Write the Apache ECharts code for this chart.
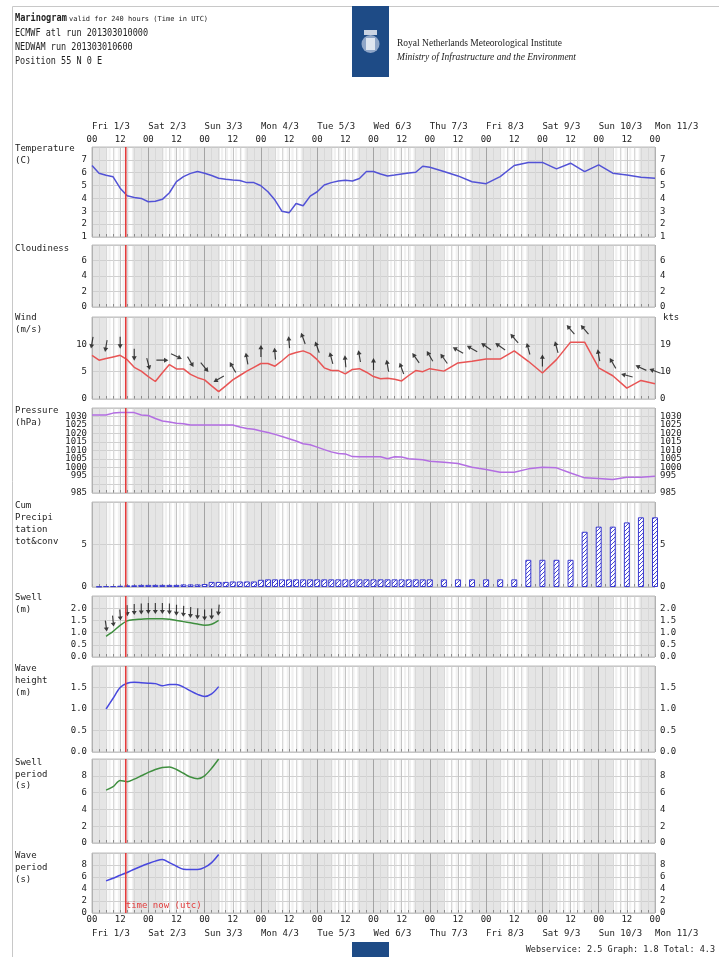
<!DOCTYPE html>
<html><head><meta charset="utf-8">
<script src="https://cdn.jsdelivr.net/npm/echarts@6/dist/echarts.min.js"></script>
<style>html,body{margin:0;padding:0;background:#fff}#c{width:719px;height:957px}</style>
</head><body><div id="c"></div><script>
// ---------------- data ----------------
const dayLabels = ['Fri 1/3','Sat 2/3','Sun 3/3','Mon 4/3','Tue 5/3','Wed 6/3','Thu 7/3','Fri 8/3','Sat 9/3','Sun 10/3','Mon 11/3'];
const nowHour = 14.4;
const nightBands = [[0,6.5],[17.5,30.5],[41.5,54.5],[65.5,78.5],[89.5,102.5],[113.5,126.5],[137.5,150.5],[161.5,174.5],[185.5,198.5],[209.5,222.5],[233.5,240]];

const tempHours = [0,3,6,9,12,15,18,21,24,27,30,33,36,39,42,45,48,51,54,57,60,63,66,69,72,75,78,81,84,87,90,93,96,99,102,105,108,111,114,117,120,123,126,129,132,135,138,141,144,150,156,162,168,174,180,186,192,198,204,210,216,222,228,234,240];
const tempValues = [6.56,5.96,5.8,5.68,4.8,4.2,4.08,4.0,3.74,3.78,3.93,4.44,5.3,5.7,5.95,6.09,5.96,5.78,5.57,5.5,5.44,5.4,5.23,5.23,4.99,4.52,3.87,3.0,2.88,3.61,3.43,4.18,4.52,5.04,5.23,5.35,5.41,5.36,5.55,6.09,6.09,5.9,5.75,5.82,5.9,5.97,6.04,6.5,6.43,6.09,5.75,5.3,5.15,5.7,6.56,6.8,6.8,6.3,6.74,6.09,6.61,5.96,5.83,5.65,5.57];

const windHours = [0,3,6,9,12,15,18,21,24,27,30,33,36,39,42,45,48,51,54,57,60,63,66,69,72,75,78,81,84,87,90,93,96,99,102,105,108,111,114,117,120,123,126,129,132,135,138,141,144,150,156,162,168,174,180,186,192,198,204,210,216,222,228,234,240];
const windSpeed = [8.0,7.1,7.4,7.7,8.0,7.2,5.8,5.1,4.1,3.2,4.8,6.3,5.5,5.5,4.5,3.9,3.5,2.4,1.35,2.4,3.5,4.3,5.1,5.8,6.5,6.5,6.0,7.0,8.1,8.5,8.8,8.3,7.2,5.7,5.2,5.2,4.6,5.4,5.55,4.9,4.1,3.7,3.8,3.6,3.3,4.3,5.2,5.0,5.55,5.1,6.6,6.9,7.3,7.3,8.8,6.9,4.75,7.2,10.4,10.4,5.7,4.25,2.0,3.4,2.8];
const windArrowHours = [0,6,12,18,24,30,36,42,48,54,60,66,72,78,84,90,96,102,108,114,120,126,132,138,144,150,156,162,168,174,180,186,192,198,204,210,216,222,228,234,240];
const windArrowDir = [190,190,180,180,165,90,115,150,140,240,330,350,0,355,355,340,340,345,355,350,0,350,340,325,330,325,300,300,305,305,320,345,0,345,320,320,350,330,285,295,290];

const presHours = windHours;
const presValues = [1030.9,1030.9,1030.9,1032.0,1032.3,1032.3,1032.3,1030.9,1030.6,1028.8,1027.4,1026.8,1026.0,1025.8,1025.0,1025.0,1025.0,1025.0,1025.0,1025.0,1025.0,1023.8,1022.9,1022.5,1021.5,1020.6,1019.5,1018.2,1016.9,1015.6,1014.0,1013.4,1012.0,1010.5,1009.2,1008.2,1008.0,1006.4,1006.3,1006.3,1006.3,1006.3,1005.1,1006.3,1006.2,1005.1,1004.9,1004.5,1003.7,1003.1,1002.3,1000.2,998.8,997.2,997.2,999.2,1000.2,999.8,996.8,993.9,993.5,992.9,994.2,994.2,994.8];

const precHours = [3,6,9,12,15,18,21,24,27,30,33,36,39,42,45,48,51,54,57,60,63,66,69,72,75,78,81,84,87,90,93,96,99,102,105,108,111,114,117,120,123,126,129,132,135,138,141,144,150,156,162,168,174,180,186,192,198,204,210,216,222,228,234,240];
const precValues = [0.05,0.1,0.1,0.15,0.2,0.2,0.25,0.25,0.25,0.25,0.25,0.25,0.3,0.3,0.3,0.35,0.6,0.6,0.6,0.65,0.65,0.65,0.65,0.85,0.9,0.9,0.9,0.9,0.9,0.9,0.9,0.9,0.9,0.9,0.9,0.9,0.9,0.9,0.9,0.9,0.9,0.9,0.9,0.9,0.9,0.9,0.9,0.9,0.9,0.9,0.9,0.9,0.9,0.9,3.2,3.2,3.2,3.2,6.5,7.1,7.1,7.6,8.2,8.2];

const waveHours = [6,9,12,15,18,21,24,27,30,33,36,39,42,45,48,51,54];
const swellHeight = [0.85,1.05,1.3,1.48,1.53,1.55,1.57,1.57,1.57,1.55,1.5,1.45,1.4,1.35,1.3,1.34,1.5];
const swellDir = [172,174,176,178,180,180,180,180,180,180,181,182,182,182,180,180,185];
const waveHeight = [1.0,1.25,1.5,1.6,1.62,1.61,1.6,1.59,1.54,1.57,1.57,1.51,1.42,1.34,1.29,1.35,1.52];
const swellPeriod = [6.3,6.7,7.45,7.3,7.6,8.0,8.4,8.75,9.0,9.05,8.75,8.3,7.85,7.65,8.0,8.9,10.0];
const wavePeriod = [5.35,5.8,6.3,6.75,7.3,7.8,8.25,8.65,8.9,8.4,7.8,7.3,7.25,7.25,7.6,8.4,9.75];

// ---------------- layout / style ----------------
const FONT = "'DejaVu Sans Mono', monospace";
const TXT = '#222';
const panels = [
  {top:147, bottom:237, min:1,   max:8,    interval:1},
  {top:245, bottom:307, min:0,   max:8,    interval:2},
  {top:317, bottom:399, min:0,   max:15,   interval:5, kts:true},
  {top:408, bottom:493, min:985, max:1035, interval:5},
  {top:502, bottom:587, min:0,   max:10,   interval:5},
  {top:596, bottom:657, min:0,   max:2.5,  interval:0.5, dec:1},
  {top:666, bottom:752, min:0,   max:2,    interval:0.5, dec:1},
  {top:759, bottom:843, min:0,   max:10,   interval:2},
  {top:853, bottom:913, min:0,   max:10,   interval:2}
];
const N = panels.length;
const vLineColors = ['#a4a4a4','#d8d8d8','#d8d8d8','#d8d8d8','#c4c4c4','#d8d8d8','#d8d8d8','#d8d8d8'];
const hourLabel = v => (v % 24 === 0 ? '00' : (v % 12 === 0 ? '12' : ''));
const arrowPath = 'path://M3.5,0 L7,8 L4.3,8 L4.3,22 L2.7,22 L2.7,8 L0,8 Z';

// hatch pattern for precipitation bars
const hatch = document.createElement('canvas');
hatch.width = 4; hatch.height = 4;
(function () {
  const c = hatch.getContext('2d');
  c.fillStyle = '#ffffff'; c.fillRect(0, 0, 4, 4);
  c.strokeStyle = '#4646d2'; c.lineWidth = 1;
  c.beginPath();
  c.moveTo(-1, 5); c.lineTo(5, -1);
  c.moveTo(-1, 1); c.lineTo(1, -1);
  c.moveTo(3, 5); c.lineTo(5, 3);
  c.stroke();
})();

const grids = panels.map(p => ({left:92, width:563, top:p.top, height:p.bottom - p.top,
  show:true, borderColor:'#bdbdbd', borderWidth:1, backgroundColor:'rgba(0,0,0,0)', z:3}));

const xAxes = [];
panels.forEach((p, i) => xAxes.push({
  gridIndex:i, type:'value', min:0, max:240, interval:3, position:'bottom', z:2,
  axisLine:{show:false},
  axisTick:{show:true, inside:true, length:3, lineStyle:{color:'#8a8a8a'}},
  axisLabel:{show:i === N - 1, margin:2, fontFamily:FONT, fontSize:9, color:TXT, formatter:hourLabel},
  splitLine:{show:true, lineStyle:{color:vLineColors, width:1}}
}));
panels.forEach((p, i) => xAxes.push({
  gridIndex:i, type:'value', min:0, max:240, interval:1, position:'bottom', z:0,
  axisLine:{show:false}, axisTick:{show:false}, axisLabel:{show:false}, splitLine:{show:false},
  splitArea:{show:true, areaStyle:{color:['#ffffff','#f1f1f1']}}
}));
xAxes.push({gridIndex:0, type:'value', min:0, max:240, interval:12, position:'top',
  axisLine:{show:false}, axisTick:{show:false}, splitLine:{show:false},
  axisLabel:{margin:3, fontFamily:FONT, fontSize:9, color:TXT, formatter:hourLabel}});
xAxes.push({gridIndex:0, type:'value', min:0, max:240, interval:24, position:'top', offset:13,
  axisLine:{show:false}, axisTick:{show:false}, splitLine:{show:false},
  axisLabel:{margin:3, fontFamily:FONT, fontSize:9, color:TXT, align:'left', formatter:v => dayLabels[Math.round(v / 24)]}});
xAxes.push({gridIndex:N - 1, type:'value', min:0, max:240, interval:24, position:'bottom', offset:14,
  axisLine:{show:false}, axisTick:{show:false}, splitLine:{show:false},
  axisLabel:{margin:2, fontFamily:FONT, fontSize:9, color:TXT, align:'left', formatter:v => dayLabels[Math.round(v / 24)]}});

const yAxes = [];
panels.forEach((p, i) => {
  const fmt = v => (p.dec ? v.toFixed(p.dec) : String(v));
  yAxes.push({gridIndex:i, type:'value', min:p.min, max:p.max, interval:p.interval, position:'left', z:2,
    axisLine:{show:false}, axisTick:{show:false},
    splitLine:{show:true, lineStyle:{color:'#d0d0d0'}},
    axisLabel:{margin:5, fontFamily:FONT, fontSize:9, color:TXT, showMinLabel:true, showMaxLabel:false, hideOverlap:false, formatter:fmt}});
  yAxes.push({gridIndex:i, type:'value', min:p.min, max:p.max, interval:p.interval, position:'right', z:2,
    axisLine:{show:false}, axisTick:{show:false}, splitLine:{show:false},
    axisLabel:{margin:5, fontFamily:FONT, fontSize:9, color:TXT, showMinLabel:true, showMaxLabel:false, hideOverlap:false,
      formatter: p.kts ? (v => String(Math.round(v * 1.944))) : fmt}});
});

const pair = (xs, ys) => xs.map((x, k) => [x, ys[k]]);
const series = [];
panels.forEach((p, i) => series.push({
  type:'line', xAxisIndex:i, yAxisIndex:2 * i, z:6, silent:true, showSymbol:false,
  data:[[nowHour, p.min], [nowHour, p.max]], lineStyle:{color:'#e23b3b', width:1.6},
  markArea:{silent:true, itemStyle:{color:'#e5e5e5'},
    data:nightBands.map(b => [{xAxis:b[0]}, {xAxis:b[1]}])}
}));
const lineS = (i, data, color, smooth) => ({type:'line', xAxisIndex:i, yAxisIndex:2 * i, z:5,
  data, showSymbol:false, smooth:smooth || false, lineStyle:{color, width:1.5}, itemStyle:{color}});
series.push(lineS(0, pair(tempHours, tempValues), '#5252d6'));
series.push(lineS(2, pair(windHours, windSpeed), '#e85454'));
series.push({type:'scatter', xAxisIndex:2, yAxisIndex:4, z:5, symbol:arrowPath, symbolSize:[5, 12],
  itemStyle:{color:'#111'},
  data:windArrowHours.map((h, k) => ({value:[h, windSpeed[windHours.indexOf(h)] + 2.3], symbolRotate:-windArrowDir[k]}))});
series.push(lineS(3, pair(presHours, presValues), '#b36ee2'));
series.push({type:'bar', xAxisIndex:4, yAxisIndex:8, z:5, barWidth:6, data:pair(precHours, precValues),
  itemStyle:{color:{image:hatch, repeat:'repeat'}, borderColor:'#3a3ad0', borderWidth:1}});
series.push(lineS(5, pair(waveHours, swellHeight), '#3f8f3f', 0.3));
series.push({type:'scatter', xAxisIndex:5, yAxisIndex:10, z:5, symbol:arrowPath, symbolSize:[5, 11],
  itemStyle:{color:'#111'},
  data:waveHours.map((h, k) => ({value:[h, swellHeight[k] + 0.42], symbolRotate:-swellDir[k]}))});
series.push(lineS(6, pair(waveHours, waveHeight), '#4848de', 0.3));
series.push(lineS(7, pair(waveHours, swellPeriod), '#3f8f3f', 0.3));
series.push(lineS(8, pair(waveHours, wavePeriod), '#4848de', 0.3));

// ---------------- texts ----------------
const t = (x, y, text, extra, sx) => Object.assign({type:'text', x, y, z:10, silent:true, scaleX:sx || 1,
  style:Object.assign({text, font:'9px ' + FONT, fill:TXT, verticalAlign:'middle'}, extra || {})});
const graphic = [
  {type:'line', silent:true, shape:{x1:12.5, y1:6.5, x2:12.5, y2:957}, style:{stroke:'#c8c8c8', lineWidth:1}},
  {type:'line', silent:true, shape:{x1:12.5, y1:6.5, x2:719, y2:6.5}, style:{stroke:'#c8c8c8', lineWidth:1}},
  t(15, 18, 'Marinogram', {font:'bold 10.5px ' + FONT}, 0.82),
  t(69, 19, 'valid for 240 hours (Time in UTC)', {font:'7px ' + FONT}),
  t(15, 33, 'ECMWF atl run 201303010000', {font:'10px ' + FONT}, 0.85),
  t(15, 47, 'NEDWAM run 201303010600', {font:'10px ' + FONT}, 0.85),
  t(15, 61, 'Position 55 N 0 E', {font:'10px ' + FONT}, 0.85),
  {type:'rect', silent:true, shape:{x:352, y:6, width:37, height:71}, style:{fill:'#1e4b86'}},
  {type:'circle', silent:true, shape:{cx:370.5, cy:44, r:9}, style:{fill:'#8fa6c8'}},
  {type:'rect', silent:true, shape:{x:364, y:30, width:13, height:5}, style:{fill:'#c9d3e3'}},
  {type:'rect', silent:true, shape:{x:366, y:38, width:9, height:12}, style:{fill:'#dfe6f0'}},
  t(397, 43, 'Royal Netherlands Meteorological Institute', {font:'9.5px "Liberation Serif", serif'}),
  t(397, 57, 'Ministry of Infrastructure and the Environment', {font:'italic 9.5px "Liberation Serif", serif'}),
  t(15, 149, 'Temperature'), t(15, 161, '(C)'),
  t(15, 249, 'Cloudiness'),
  t(15, 318, 'Wind'), t(15, 330, '(m/s)'),
  t(15, 411, 'Pressure'), t(15, 423, '(hPa)'),
  t(15, 506, 'Cum'), t(15, 518, 'Precipi'), t(15, 530, 'tation'), t(15, 542, 'tot&conv'),
  t(15, 598, 'Swell'), t(15, 610, '(m)'),
  t(15, 669, 'Wave'), t(15, 681, 'height'), t(15, 693, '(m)'),
  t(15, 763, 'Swell'), t(15, 775, 'period'), t(15, 786, '(s)'),
  t(15, 856, 'Wave'), t(15, 868, 'period'), t(15, 880, '(s)'),
  t(663, 318, 'kts'),
  {type:'rect', silent:true, shape:{x:352, y:942, width:37, height:15}, style:{fill:'#1e4b86'}},
  t(715, 950, 'Webservice: 2.5 Graph: 1.8 Total: 4.3', {align:'right', font:'8.5px ' + FONT})
];

const chart = echarts.init(document.getElementById('c'));
chart.setOption({animation:false, grid:grids, xAxis:xAxes, yAxis:yAxes, series, graphic});
const pNow = chart.convertToPixel({xAxisIndex:N - 1, yAxisIndex:2 * (N - 1)}, [nowHour, panels[N - 1].min]);
chart.setOption({graphic: graphic.concat([t(pNow[0], pNow[1] - 7, 'time now (utc)', {fill:'#e23b3b'})])});
</script></body></html>
